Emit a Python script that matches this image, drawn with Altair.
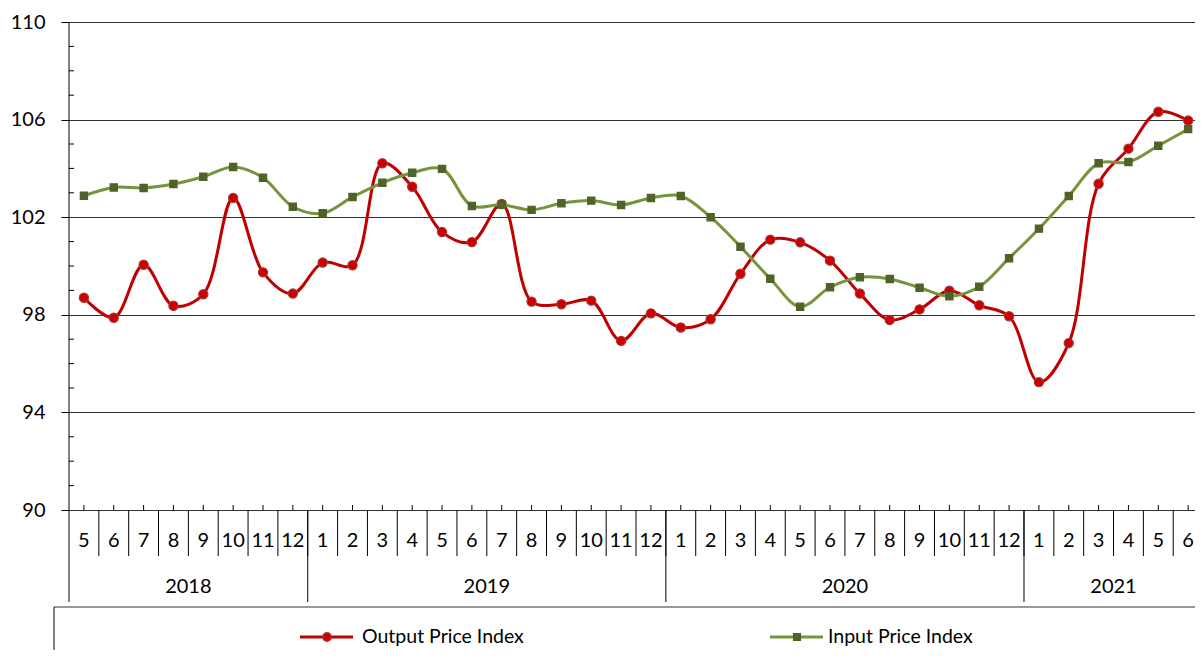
import altair as alt
import pandas as pd

# ---------------- data ----------------
months = [5, 6, 7, 8, 9, 10, 11, 12,
          1, 2, 3, 4, 5, 6, 7, 8, 9, 10, 11, 12,
          1, 2, 3, 4, 5, 6, 7, 8, 9, 10, 11, 12,
          1, 2, 3, 4, 5, 6]
years = [2018] * 8 + [2019] * 12 + [2020] * 12 + [2021] * 6
output_index = [98.70, 97.88, 100.05, 98.37, 98.84, 102.79, 99.74, 98.87,
                100.14, 100.03, 104.21, 103.25, 101.39, 100.98, 102.54, 98.54, 98.43, 98.58, 96.93, 98.06,
                97.48, 97.82, 99.68, 101.08, 100.97, 100.22, 98.87, 97.79, 98.22, 98.99, 98.39, 97.94,
                95.24, 96.84, 103.37, 104.81, 106.32, 105.96]
input_index = [102.88, 103.22, 103.20, 103.36, 103.66, 104.06, 103.62, 102.43,
               102.16, 102.83, 103.41, 103.82, 103.98, 102.46, 102.51, 102.30, 102.57, 102.68, 102.50, 102.79,
               102.87, 102.00, 100.79, 99.48, 98.33, 99.13, 99.54, 99.47, 99.11, 98.76, 99.15, 100.32,
               101.53, 102.87, 104.21, 104.26, 104.93, 105.61]
series_names = ["Output Price Index", "Input Price Index"]
y_major = [90, 94, 98, 102, 106, 110]
y_minor = [v for v in range(91, 110) if v not in y_major]

# ---------------- styling ----------------
FONT = "Lato"
FS = 20
W, H = 1126, 488
RED, RED_EDGE = "#C00000", "#A33A3A"
GREEN, GREEN_MK = "#77933C", "#4F6228"
LINE_C = "#333333"

idx = list(range(len(months)))
df = pd.DataFrame({"idx": idx, "month": [str(m) for m in months], "year": years,
                   series_names[0]: output_index, series_names[1]: input_index})
long = df.melt(id_vars=["idx", "month", "year"], value_vars=series_names,
               var_name="series", value_name="value")

xs = alt.Scale(domain=[-0.5, 37.23], nice=False, zero=False)
ys = alt.Scale(domain=[90, 110], nice=False, zero=False)

yaxis = alt.Axis(values=y_major, grid=True, gridColor=LINE_C, gridWidth=1,
                 domain=False, ticks=True, tickColor="black", tickSize=8,
                 labelFont=FONT, labelFontSize=FS, labelColor="black",
                 labelPadding=16, title=None)


def Y(field):
    return alt.Y(field, scale=ys, axis=yaxis, title=None)


def X(field):
    return alt.X(field, scale=xs, axis=None)


base = alt.Chart(long)


def series_layers(name, color, shape, fill, edge, size):
    sub = base.transform_filter(alt.datum.series == name)
    line = sub.mark_line(color=color, strokeWidth=3, interpolate="catmull-rom").encode(
        x=X("idx:Q"), y=Y("value:Q"))
    pts = sub.mark_point(shape=shape, filled=True, size=size, fill=fill,
                         stroke=edge, strokeWidth=1.2, opacity=1).encode(
        x=X("idx:Q"), y=Y("value:Q"))
    return [line, pts]


layers = []
layers += series_layers(series_names[0], RED, "circle", "#CC0000", RED_EDGE, 85)
layers += series_layers(series_names[1], GREEN, "square", GREEN_MK, GREEN_MK, 52)

# minor y ticks (inside)
minor_df = pd.DataFrame({"v": y_minor})
layers.append(alt.Chart(minor_df).mark_rule(color="black", strokeWidth=1).encode(
    x=alt.value(0), x2=alt.value(5), y=Y("v:Q")))

# left axis line extended down through the category rows
one = pd.DataFrame({"v": [0]})
layers.append(alt.Chart(one).mark_rule(color="black", strokeWidth=1).encode(
    x=alt.value(0), y=alt.value(0), y2=alt.value(580)))

# x ticks at category centers (pointing up)
layers.append(alt.Chart(df).mark_rule(color="black", strokeWidth=1).encode(
    x=X("idx:Q"), y=alt.value(H - 5), y2=alt.value(H)))

# month separators
month_b = pd.DataFrame({"b": [i + 0.5 for i in idx[:-1]]})
layers.append(alt.Chart(month_b).mark_rule(color="black", strokeWidth=1).encode(
    x=X("b:Q"), y=alt.value(H), y2=alt.value(H + 46)))

# year separators
year_b = pd.DataFrame({"b": [i - 0.5 for i in idx[1:] if years[i] != years[i - 1]]})
layers.append(alt.Chart(year_b).mark_rule(color="black", strokeWidth=1).encode(
    x=X("b:Q"), y=alt.value(H), y2=alt.value(580)))

# month labels
layers.append(alt.Chart(df).mark_text(font=FONT, fontSize=FS, color="black",
                                      baseline="middle", align="center").encode(
    x=X("idx:Q"), y=alt.value(H + 31), text="month:N"))

# year labels
year_c = df.groupby("year", as_index=False)["idx"].mean()
year_c["label"] = year_c["year"].astype(str)
layers.append(alt.Chart(year_c).mark_text(font=FONT, fontSize=FS, color="black",
                                          baseline="middle", align="center").encode(
    x=X("idx:Q"), y=alt.value(H + 77), text="label:N"))

# legend box (top and left border)
layers.append(alt.Chart(one).mark_rule(color=LINE_C, strokeWidth=1.2).encode(
    x=alt.value(-15), x2=alt.value(W + 10), y=alt.value(585)))
layers.append(alt.Chart(one).mark_rule(color="black", strokeWidth=1).encode(
    x=alt.value(-15), y=alt.value(585), y2=alt.value(640)))

# legend entries
LEG_Y = 615
leg_specs = [
    (series_names[0], 231, RED, "circle", "#CC0000", RED_EDGE, 75, 62),
    (series_names[1], 701, GREEN, "square", GREEN_MK, GREEN_MK, 48, 58),
]
for name, x0, col, shp, fill, edge, sz, tx in leg_specs:
    ldf = pd.DataFrame({"name": [name]})
    layers.append(alt.Chart(ldf).mark_rule(color=col, strokeWidth=3).encode(
        x=alt.value(x0), x2=alt.value(x0 + 53), y=alt.value(LEG_Y)))
    layers.append(alt.Chart(ldf).mark_point(shape=shp, filled=True, size=sz, fill=fill,
                                            stroke=edge, strokeWidth=1.2, opacity=1).encode(
        x=alt.value(x0 + 27), y=alt.value(LEG_Y)))
    layers.append(alt.Chart(ldf).mark_text(font=FONT, fontSize=19.5, color="black",
                                           align="left", baseline="middle").encode(
        x=alt.value(x0 + tx), y=alt.value(LEG_Y), text="name:N"))

chart = alt.layer(*layers).properties(
    width=W, height=H,
    padding={"left": 61, "top": 14, "right": 0, "bottom": 140},
    autosize=alt.AutoSizeParams(type="none"),
    background="white",
).configure_view(stroke=None)

chart.save("out.html", embed_options={"renderer": "svg", "actions": False})
